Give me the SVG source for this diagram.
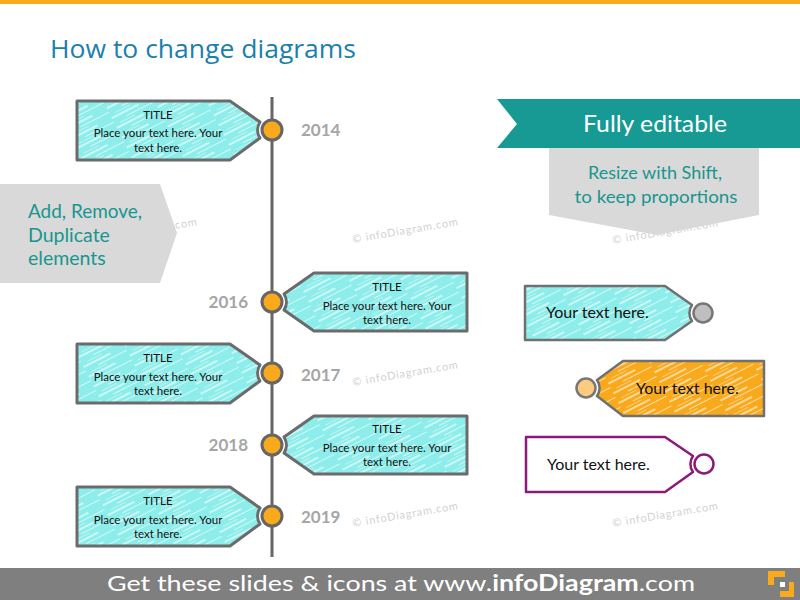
<svg xmlns="http://www.w3.org/2000/svg" width="800" height="600" viewBox="0 0 800 600">
<defs>
<pattern id="hatch" patternUnits="userSpaceOnUse" width="46" height="11" patternTransform="rotate(-27)">
<line x1="0" y1="2" x2="30" y2="2" stroke="#fff" stroke-width="1.4" stroke-opacity="0.8"/>
<line x1="14" y1="6.5" x2="46" y2="6.5" stroke="#fff" stroke-width="1" stroke-opacity="0.6"/>
<line x1="5" y1="9.5" x2="22" y2="9.5" stroke="#fff" stroke-width="0.8" stroke-opacity="0.5"/>
</pattern>
<style>
.tag{fill:#8DEDEA;stroke:none}
.hatch{fill:url(#hatch);stroke:none}
.edge{fill:none;stroke:#6B6B6B;stroke-width:3;stroke-linejoin:round}
.dot{fill:#F9A91C;stroke:#666;stroke-width:3}
.t{font-family:Lato,"Liberation Sans",sans-serif;fill:#111;text-anchor:middle}
.tt{font-size:11.5px}
.year{font-family:Lato,"Liberation Sans",sans-serif;font-weight:bold;font-size:17px;fill:#A6A6A6}
.wm{font-family:Lato,"Liberation Sans",sans-serif;font-size:11px;fill:#D2D2D2;letter-spacing:0.8px}
.teal{font-family:Lato,"Liberation Sans",sans-serif;fill:#17968F}
.your{font-family:Lato,"Liberation Sans",sans-serif;font-size:16px;fill:#111}
</style>
</defs>
<rect x="0" y="0" width="800" height="600" fill="#fff"/>
<rect x="0" y="0" width="800" height="4" fill="#F9A91C"/>
<text x="50" y="58" font-family="'Open Sans',Lato,'Liberation Sans',sans-serif" font-size="26" fill="#1B80AE" textLength="306" lengthAdjust="spacingAndGlyphs">How to change diagrams</text>

<g id="watermarks">
<text class="wm" x="92" y="243" transform="rotate(-9.6 92 243)">© infoDiagram.com</text>
<text class="wm" x="353" y="243" transform="rotate(-9.6 353 243)">© infoDiagram.com</text>
<text class="wm" x="353" y="386" transform="rotate(-9.6 353 386)">© infoDiagram.com</text>
<text class="wm" x="353" y="527" transform="rotate(-9.6 353 527)">© infoDiagram.com</text>
<text class="wm" x="613" y="244" transform="rotate(-9.6 613 244)">© infoDiagram.com</text>
<text class="wm" x="613" y="527" transform="rotate(-9.6 613 527)">© infoDiagram.com</text>
</g>

<g id="add-remove">
<path d="M0,184 L160,184 L177,233 L160,283 L0,283 Z" fill="#D9D9D9"/>
<text class="teal" font-size="19.5" x="28" y="218" textLength="114" lengthAdjust="spacingAndGlyphs">Add, Remove,</text>
<text class="teal" font-size="19.5" x="28" y="242">Duplicate</text>
<text class="teal" font-size="19.5" x="28" y="265">elements</text>
</g>

<g id="fully-editable">
<path d="M497,99 L800,99 L800,148 L497,148 L517,124 Z" fill="#169A93"/>
<text x="655" y="132" font-family="Lato,'Liberation Sans',sans-serif" font-size="24" fill="#fff" text-anchor="middle" textLength="144" lengthAdjust="spacingAndGlyphs">Fully editable</text>
</g>

<g id="resize">
<path d="M549,148 L759,148 L759,215 L657,235 L549,215 Z" fill="#D9D9D9"/>
<text class="teal" font-size="17.5" x="655" y="179" text-anchor="middle" textLength="134" lengthAdjust="spacingAndGlyphs">Resize with Shift,</text>
<text class="teal" font-size="17.5" x="656" y="203" text-anchor="middle" textLength="163" lengthAdjust="spacingAndGlyphs">to keep proportions</text>
</g>

<g id="connectors">
<line x1="272" y1="97" x2="272" y2="557" stroke="#666" stroke-width="3"/>
</g>

<g id="tag-2014">
<path class="tag" d="M77,101 L230,101 L260,122 A14.4 14.4 0 0 0 260,138 L230,160 L77,160 Z"/>
<path class="hatch" d="M77,101 L230,101 L260,122 A14.4 14.4 0 0 0 260,138 L230,160 L77,160 Z"/>
<path class="edge" d="M77,101 L230,101 L260,122 A14.4 14.4 0 0 0 260,138 L230,160 L77,160 Z"/>
<text class="t tt" x="158" y="119">TITLE</text>
<text class="t tt" x="158" y="137">Place your text here. Your</text>
<text class="t tt" x="158" y="152">text here.</text>
<circle class="dot" cx="272" cy="130" r="10"/>
<text class="year" x="301" y="136">2014</text>
</g>

<g id="tag-2016">
<path class="tag" d="M467,273 L314,273 L284,294 A14.4 14.4 0 0 1 284,310 L314,331 L467,331 Z"/>
<path class="hatch" d="M467,273 L314,273 L284,294 A14.4 14.4 0 0 1 284,310 L314,331 L467,331 Z"/>
<path class="edge" d="M467,273 L314,273 L284,294 A14.4 14.4 0 0 1 284,310 L314,331 L467,331 Z"/>
<text class="t tt" x="387" y="291">TITLE</text>
<text class="t tt" x="387" y="310">Place your text here. Your</text>
<text class="t tt" x="387" y="324">text here.</text>
<circle class="dot" cx="272" cy="302" r="10"/>
<text class="year" x="248" y="308" text-anchor="end">2016</text>
</g>

<g id="tag-2017">
<path class="tag" d="M77,344 L230,344 L260,365 A14.4 14.4 0 0 0 260,381 L230,403 L77,403 Z"/>
<path class="hatch" d="M77,344 L230,344 L260,365 A14.4 14.4 0 0 0 260,381 L230,403 L77,403 Z"/>
<path class="edge" d="M77,344 L230,344 L260,365 A14.4 14.4 0 0 0 260,381 L230,403 L77,403 Z"/>
<text class="t tt" x="158" y="362">TITLE</text>
<text class="t tt" x="158" y="381">Place your text here. Your</text>
<text class="t tt" x="158" y="395">text here.</text>
<circle class="dot" cx="272" cy="373" r="10"/>
<text class="year" x="301" y="381">2017</text>
</g>

<g id="tag-2018">
<path class="tag" d="M467,416 L314,416 L284,437 A14.4 14.4 0 0 1 284,453 L314,474 L467,474 Z"/>
<path class="hatch" d="M467,416 L314,416 L284,437 A14.4 14.4 0 0 1 284,453 L314,474 L467,474 Z"/>
<path class="edge" d="M467,416 L314,416 L284,437 A14.4 14.4 0 0 1 284,453 L314,474 L467,474 Z"/>
<text class="t tt" x="387" y="433">TITLE</text>
<text class="t tt" x="387" y="452">Place your text here. Your</text>
<text class="t tt" x="387" y="466">text here.</text>
<circle class="dot" cx="272" cy="445" r="10"/>
<text class="year" x="248" y="451" text-anchor="end">2018</text>
</g>

<g id="tag-2019">
<path class="tag" d="M77,487 L230,487 L260,508 A14.4 14.4 0 0 0 260,524 L230,546 L77,546 Z"/>
<path class="hatch" d="M77,487 L230,487 L260,508 A14.4 14.4 0 0 0 260,524 L230,546 L77,546 Z"/>
<path class="edge" d="M77,487 L230,487 L260,508 A14.4 14.4 0 0 0 260,524 L230,546 L77,546 Z"/>
<text class="t tt" x="158" y="505">TITLE</text>
<text class="t tt" x="158" y="524">Place your text here. Your</text>
<text class="t tt" x="158" y="538">text here.</text>
<circle class="dot" cx="272" cy="516" r="10"/>
<text class="year" x="301" y="523">2019</text>
</g>

<g id="sample-cyan">
<path class="tag" d="M525,286 L665,286 L692,305 A13.6 13.6 0 0 0 692,321 L665,340 L525,340 Z"/>
<path class="hatch" d="M525,286 L665,286 L692,305 A13.6 13.6 0 0 0 692,321 L665,340 L525,340 Z"/>
<path d="M525,286 L665,286 L692,305 A13.6 13.6 0 0 0 692,321 L665,340 L525,340 Z" fill="none" stroke="#707070" stroke-width="2.5" stroke-linejoin="round"/>
<circle cx="703" cy="313" r="9.5" fill="#BFBFBF" stroke="#777" stroke-width="2.5"/>
<text class="your" x="546" y="318">Your text here.</text>
</g>

<g id="sample-orange">
<path d="M764,361 L623,361 L597,380 A13.6 13.6 0 0 1 597,396 L623,416 L764,416 Z" fill="#F9A91C"/>
<path class="hatch" d="M764,361 L623,361 L597,380 A13.6 13.6 0 0 1 597,396 L623,416 L764,416 Z"/>
<path d="M764,361 L623,361 L597,380 A13.6 13.6 0 0 1 597,396 L623,416 L764,416 Z" fill="none" stroke="#707070" stroke-width="2.5" stroke-linejoin="round"/>
<circle cx="586" cy="388" r="9.5" fill="#FDCB80" stroke="#777" stroke-width="2.5"/>
<text class="your" x="636" y="394">Your text here.</text>
</g>

<g id="sample-purple">
<path d="M526,437 L665,437 L693,456 A13.6 13.6 0 0 0 693,472 L665,492 L526,492 Z" fill="#fff" stroke="#8C1A7B" stroke-width="2.5" stroke-linejoin="round"/>
<circle cx="704" cy="464" r="9.5" fill="#fff" stroke="#8C1A7B" stroke-width="2.5"/>
<text class="your" x="547" y="470">Your text here.</text>
</g>

<g id="footer">
<rect x="0" y="568" width="800" height="32" fill="#7F7F7F"/>
<text x="107" y="591" font-family="Lato,'Liberation Sans',sans-serif" font-size="22" fill="#fff" textLength="588" lengthAdjust="spacingAndGlyphs">Get these slides &amp; icons at www.<tspan font-weight="bold">infoDiagram</tspan>.com</text>
<path d="M768,571 L785,571 L785,577 L774,577 L774,585 L768,585 Z" fill="#F9A91C"/>
<rect x="780" y="582" width="5" height="5" fill="#fff"/>
<path d="M794,582 L794,597 L780,597 L780,591 L789,591 L789,582 Z" fill="#F9A91C"/>
</g>
</svg>
